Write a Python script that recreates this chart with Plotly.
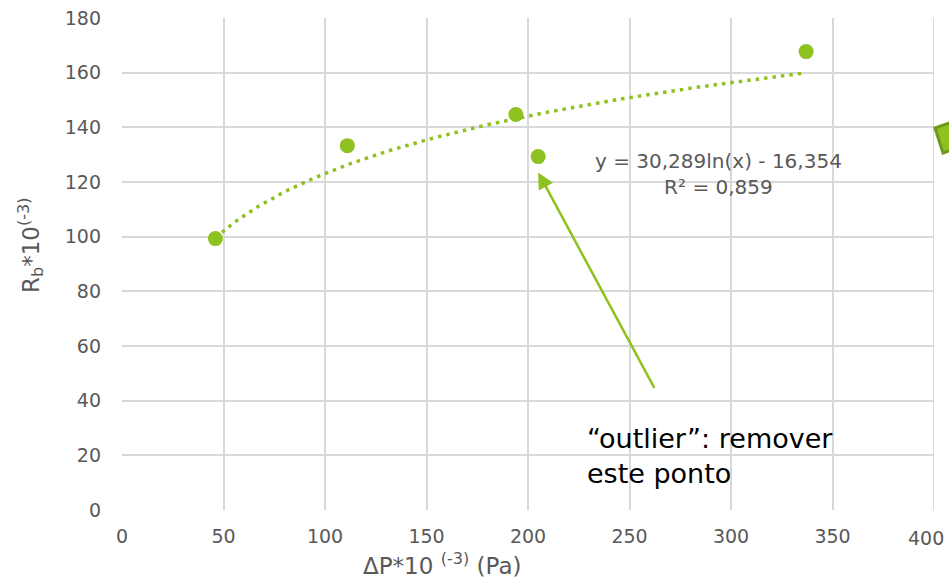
import numpy as np
import plotly.graph_objects as go

# Data
dp = [46, 111, 194, 205, 337]          # ΔP*10^-3 (Pa)
rb = [99.3, 133.3, 144.7, 129.3, 167.7]  # Rb*10^-3
coef_a = 30.289
coef_b = -16.354
x_ticks = [0, 50, 100, 150, 200, 250, 300, 350, 400]
x_tick_labels = ["0", "50", "100", "150", "200", "250", "300", "350", "400"]
y_ticks = [0, 20, 40, 60, 80, 100, 120, 140, 160, 180]

green = "#8fc121"
font = "DejaVu Sans"
tick_size = 19

xt = np.linspace(min(dp), max(dp), 200)
yt = coef_a * np.log(xt) + coef_b

fig = go.Figure()
fig.add_trace(go.Scatter(x=xt, y=yt, mode="lines",
                         line=dict(color=green, width=3.5, dash="3.5px,5px"),
                         hoverinfo="skip"))
fig.add_trace(go.Scatter(x=dp, y=rb, mode="markers",
                         marker=dict(color=green, size=15)))

W, H = 949, 581
L, R, T, B = 122, 15, 18, 71
pw, ph = W - L - R, H - T - B

def px(xp, yp):
    return (xp - L) / pw, (H - B - yp) / ph

verts = [(935, 128), (958, 120), (966, 145), (943, 153)]
path = "M " + " L ".join(f"{px(a,b)[0]:.4f},{px(a,b)[1]:.4f}" for a, b in verts) + " Z"
fig.add_shape(type="path", path=path, xref="paper", yref="paper",
              fillcolor="#8fc121", line=dict(color="#6b9a1c", width=3), layer="above")

fig.add_annotation(x=px(718, 0)[0], y=px(0, 174)[1], xref="paper", yref="paper",
                   xanchor="center", yanchor="middle",
                   text="y = 30,289ln(x) - 16,354<br>R² = 0,859", showarrow=False,
                   align="center", font=dict(family=font, size=20, color="#595959"))

fig.add_annotation(x=px(585, 0)[0], y=px(0, 456)[1], xref="paper", yref="paper",
                   xanchor="left", yanchor="middle",
                   text="“outlier”: remover<br>este ponto", showarrow=False, align="left",
                   font=dict(family=font, size=27, color="#000000"))

fig.add_annotation(x=205, y=123.5, xref="x", yref="y", ax=117, ay=217,
                   showarrow=True, arrowhead=2, arrowsize=1.3, arrowwidth=2.5,
                   arrowcolor=green, text="")

# last x tick label, shifted left to fit inside the page (as in the reference)
fig.add_annotation(x=px(946, 0)[0], y=px(0, 538)[1], xref="paper", yref="paper",
                   xanchor="right", yanchor="middle", showarrow=False,
                   text=x_tick_labels[-1], font=dict(family=font, size=tick_size, color="#595959"))

# axis titles (offset from centre as in the reference)
fig.add_annotation(x=px(442, 0)[0], y=px(0, 564)[1], xref="paper", yref="paper",
                   xanchor="center", yanchor="middle", showarrow=False,
                   text="ΔP*10 <sup>(-3)</sup> (Pa)", font=dict(family=font, size=23, color="#595959"))
fig.add_annotation(x=px(30, 0)[0], y=px(0, 245)[1], xref="paper", yref="paper",
                   xanchor="center", yanchor="middle", showarrow=False, textangle=-90,
                   text="R<sub>b</sub>*10<sup>(-3)</sup>", font=dict(family=font, size=23, color="#595959"))

fig.update_layout(
    width=W, height=H, showlegend=False,
    margin=dict(l=L, r=R, t=T, b=B),
    plot_bgcolor="white", paper_bgcolor="white",
    font=dict(family=font, size=tick_size, color="#595959"),
    xaxis=dict(range=[0, 400], tickvals=x_ticks[:-1], ticktext=x_tick_labels[:-1],
               showgrid=True, gridcolor="#d9d9d9",
               gridwidth=2, zeroline=False, showline=False, ticks="", automargin=False,
               ticklabelstandoff=13, ticklabeloverflow="allow",
               tickfont=dict(size=tick_size)),
    yaxis=dict(range=[0, 180], tickvals=y_ticks, showgrid=True, gridcolor="#d9d9d9",
               gridwidth=2, zeroline=False, showline=False, ticks="", automargin=False,
               ticklabelstandoff=20, ticklabeloverflow="allow",
               tickfont=dict(size=tick_size)),
)
# gridline at x = 400 (plot's right edge)
fig.add_shape(type="line", xref="x", yref="paper", x0=400, x1=400, y0=0, y1=1,
              line=dict(color="#d9d9d9", width=2), layer="below")

fig.write_html("out.html", config={"displayModeBar": False},
               post_script="document.body.style.margin='0px';")
